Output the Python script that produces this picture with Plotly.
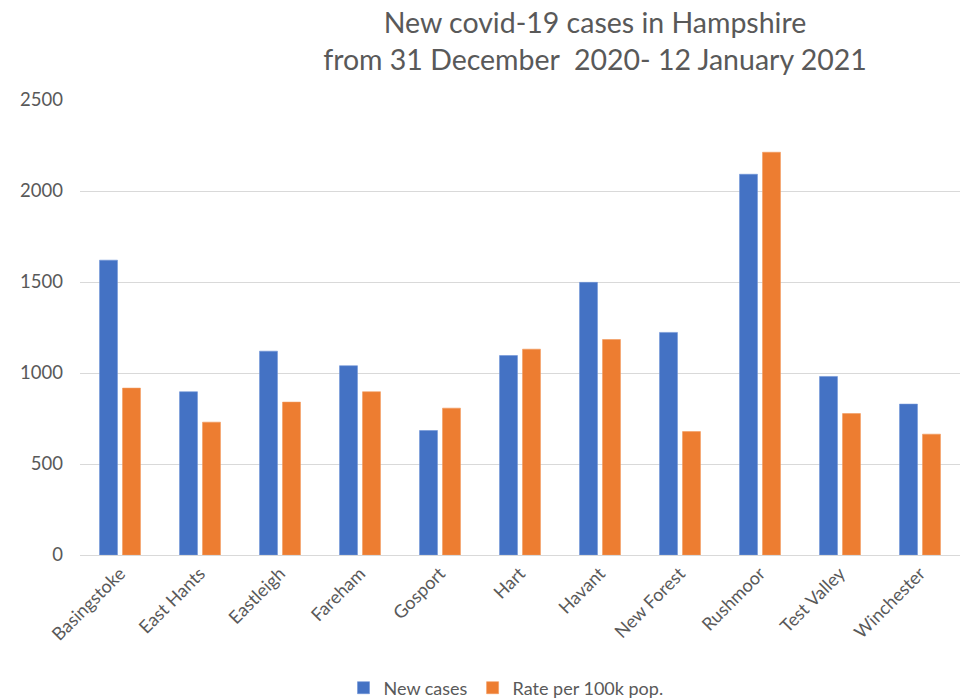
import plotly.graph_objects as go

districts = ["Basingstoke", "East Hants", "Eastleigh", "Fareham", "Gosport", "Hart",
             "Havant", "New Forest", "Rushmoor", "Test Valley", "Winchester"]
new_cases = [1620, 897, 1120, 1040, 684, 1096, 1498, 1223, 2092, 981, 829]
rate_per_100k = [917, 730, 840, 897, 807, 1131, 1184, 678, 2213, 777, 664]
y_ticks = [0, 500, 1000, 1500, 2000, 2500]

FONT = "Lato, 'Open Sans', sans-serif"
GREY = "#595959"

fig = go.Figure()
fig.add_trace(go.Bar(x=districts, y=new_cases, name="New cases",
                     marker=dict(color="#4472C4", line=dict(color="#6f93d6", width=0.6))))
fig.add_trace(go.Bar(x=districts, y=rate_per_100k, name="Rate per 100k pop.",
                     marker=dict(color="#ED7D31", line=dict(color="#f29a5e", width=0.6))))

fig.update_layout(
    width=961, height=700,
    paper_bgcolor="white", plot_bgcolor="white",
    barmode="group", bargap=0.425, bargroupgap=0.22,
    margin=dict(l=80, r=1, t=100, b=145, pad=0),
    font=dict(family=FONT, color=GREY),
    title=dict(text="New covid-19 cases in Hampshire<br>from 31 December  2020- 12 January 2021",
               x=595/961, xanchor="center", xref="container",
               y=1 - 33/700, yanchor="middle", yref="container", pad=dict(t=0, b=0, l=0, r=0),
               font=dict(size=28.5, color=GREY, family=FONT), automargin=False),
    legend=dict(orientation="h", x=506/961, xanchor="center", xref="container",
                y=1 - 688/700, yanchor="middle", yref="container",
                font=dict(size=18, color=GREY), itemclick=False, itemwidth=30,
                traceorder="normal"),
    showlegend=True,
)
fig.update_yaxes(range=[0, 2500], tickvals=y_ticks, showgrid=True, gridcolor="#d9d9d9",
                 gridwidth=1, zeroline=False, showline=False, automargin=False,
                 tickfont=dict(size=18.5, color=GREY), ticklabelstandoff=16)
fig.update_xaxes(showline=True, linecolor="#d9d9d9", linewidth=1, tickangle=-45,
                 tickfont=dict(size=18, color=GREY), ticks="", showgrid=False,
                 automargin=False)

fig.write_html("out.html", config={"displayModeBar": False},
               post_script="document.body.style.margin='0';document.body.style.overflow='hidden';")
